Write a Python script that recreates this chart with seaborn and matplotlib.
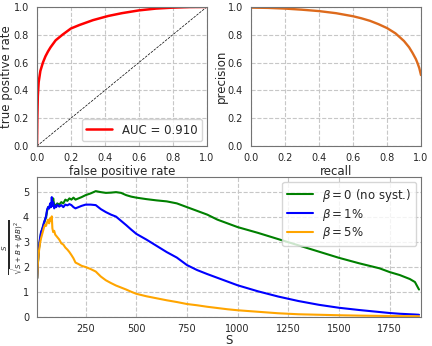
import numpy as np
import pandas as pd
import matplotlib
matplotlib.use("Agg")
import matplotlib.pyplot as plt
import seaborn as sns

# ROC curve
fpr = [0, 0.002, 0.005, 0.01, 0.02, 0.035, 0.05, 0.065, 0.08, 0.11, 0.15,
       0.2, 0.25, 0.33, 0.42, 0.5, 0.6, 0.7, 0.8, 0.9, 1.0]
tpr = [0, 0.2, 0.36, 0.46, 0.54, 0.6, 0.645, 0.68, 0.71, 0.76, 0.8,
       0.845, 0.87, 0.905, 0.935, 0.955, 0.975, 0.988, 0.995, 0.999, 1.0]
auc_label = "AUC = 0.910"

# precision-recall curve
recall = [0, 0.1, 0.2, 0.3, 0.4, 0.5, 0.6, 0.65, 0.7, 0.75, 0.8, 0.85, 0.9,
          0.93, 0.95, 0.97, 0.98, 0.99, 1.0]
precision = [0.995, 0.993, 0.988, 0.98, 0.97, 0.955, 0.933, 0.918, 0.9,
             0.876, 0.848, 0.81, 0.755, 0.71, 0.67, 0.625, 0.595, 0.56, 0.51]

# significance vs number of signal events S
S = [11, 15, 20, 25, 30, 35, 40, 45, 50, 55, 60, 65, 70, 75, 80, 83, 86, 90,
     95, 100, 105, 110, 120, 130, 140, 150, 160, 170, 180, 190, 200, 215, 230,
     250, 275, 300, 325, 350, 375, 400, 425, 450, 475, 500, 550, 600, 650, 700,
     750, 800, 850, 900, 950, 1000, 1100, 1200, 1300, 1400, 1500, 1600, 1700,
     1750, 1800, 1850, 1875, 1895]
sig_nosyst = [1.55, 2.2, 2.75, 3.1, 3.35, 3.5, 3.6, 3.75, 3.9, 4.0, 4.25, 4.4,
              4.35, 4.5, 4.45, 4.6, 4.5, 4.75, 4.45, 4.5, 4.45, 4.55, 4.5, 4.6,
              4.55, 4.7, 4.65, 4.75, 4.7, 4.78, 4.7, 4.75, 4.8, 4.88, 4.95,
              5.04, 5.0, 4.97, 4.98, 5.0, 4.97, 4.88, 4.82, 4.78, 4.72, 4.67,
              4.63, 4.55, 4.4, 4.25, 4.1, 3.9, 3.75, 3.6, 3.37, 3.12, 2.87,
              2.62, 2.37, 2.15, 1.95, 1.8, 1.68, 1.52, 1.4, 1.1]
sig_syst1 = [1.55, 2.25, 2.8, 3.15, 3.4, 3.5, 3.65, 3.8, 3.9, 4.05, 4.3, 4.4,
             4.35, 4.55, 4.4, 4.8, 4.45, 4.6, 4.35, 4.45, 4.4, 4.5, 4.42, 4.48,
             4.4, 4.5, 4.47, 4.52, 4.48, 4.4, 4.35, 4.4, 4.45, 4.5, 4.5, 4.48,
             4.32, 4.2, 4.1, 4.02, 3.85, 3.68, 3.5, 3.33, 3.1, 2.85, 2.6, 2.38,
             2.08, 1.88, 1.72, 1.57, 1.42, 1.27, 1.03, 0.82, 0.64, 0.49, 0.37,
             0.28, 0.2, 0.16, 0.13, 0.11, 0.1, 0.09]
sig_syst5 = [1.55, 2.2, 2.65, 2.95, 3.15, 3.3, 3.45, 3.6, 3.7, 3.65, 3.8, 3.9,
             3.75, 3.95, 3.85, 4.03, 3.55, 3.4, 3.45, 3.3, 3.25, 3.2, 3.1,
             2.95, 2.9, 2.78, 2.7, 2.6, 2.48, 2.35, 2.18, 2.12, 2.05, 2.0,
             1.92, 1.82, 1.62, 1.47, 1.36, 1.26, 1.18, 1.1, 1.01, 0.93, 0.83,
             0.75, 0.67, 0.6, 0.52, 0.47, 0.41, 0.36, 0.31, 0.27, 0.21, 0.15,
             0.11, 0.09, 0.07, 0.055, 0.045, 0.04, 0.035, 0.032, 0.03, 0.03]
labels = [r"$\beta = 0$ (no syst.)", r"$\beta = 1\%$", r"$\beta = 5\%$"]
colors = ["green", "blue", "orange"]

sns.set_style("whitegrid", {"grid.linestyle": "--", "grid.color": "0.78",
                            "axes.edgecolor": "0.45"})
plt.rcParams["font.family"] = ["DejaVu Sans"]
plt.rcParams["xtick.labelsize"] = 7
plt.rcParams["ytick.labelsize"] = 7
plt.rcParams["axes.labelsize"] = 8.5
plt.rcParams["legend.fontsize"] = 8.5
plt.rcParams["xtick.major.pad"] = 1.2
plt.rcParams["ytick.major.pad"] = 2.2
plt.rcParams["axes.labelpad"] = 1.5

fig = plt.figure(figsize=(4.32, 3.46), dpi=100)
ax_roc = fig.add_axes([0.0856, 0.578, 0.393, 0.402])
ax_pr = fig.add_axes([0.581, 0.578, 0.3935, 0.402])
ax_sig = fig.add_axes([0.0856, 0.0838, 0.889, 0.4042])

# ROC
sns.lineplot(x=fpr, y=tpr, ax=ax_roc, color="red", lw=1.8, sort=False,
             estimator=None, label=auc_label)
ax_roc.plot([0, 1], [0, 1], color="black", ls="--", lw=0.5)
ax_roc.set_xlim(0, 1)
ax_roc.set_ylim(0, 1)
ax_roc.set_xticks(np.arange(0, 1.01, 0.2))
ax_roc.set_yticks(np.arange(0, 1.01, 0.2))
ax_roc.set_xlabel("false positive rate")
ax_roc.set_ylabel("true positive rate")
ax_roc.yaxis.set_label_coords(-0.14, 0.5)
ax_roc.legend(loc="lower right", handlelength=2.2, borderaxespad=0.4)

# precision-recall
sns.lineplot(x=recall, y=precision, ax=ax_pr, color="#dd6a1c", lw=1.7,
             sort=False, estimator=None)
ax_pr.set_xlim(0, 1)
ax_pr.set_ylim(0, 1)
ax_pr.set_xticks(np.arange(0, 1.01, 0.2))
ax_pr.set_yticks(np.arange(0, 1.01, 0.2))
ax_pr.set_xlabel("recall")
ax_pr.set_ylabel("precision")
ax_pr.yaxis.set_label_coords(-0.135, 0.5)

# significance
df = pd.DataFrame({
    "S": S * 3,
    "sig": sig_nosyst + sig_syst1 + sig_syst5,
    "case": [labels[0]] * len(S) + [labels[1]] * len(S) + [labels[2]] * len(S),
})
sns.lineplot(data=df, x="S", y="sig", hue="case", hue_order=labels,
             palette=colors, ax=ax_sig, lw=1.5, estimator=None)
ax_sig.set_xlim(10, 1905)
ax_sig.set_ylim(0, 5.6)
ax_sig.set_xticks([250, 500, 750, 1000, 1250, 1500, 1750])
ax_sig.set_yticks([0, 1, 2, 3, 4, 5])
ax_sig.set_xlabel("S", labelpad=0.5)
ax_sig.set_ylabel(r"$\frac{S}{\sqrt{S+B+(\beta B)^2}}$", fontsize=7.4)
ax_sig.yaxis.set_label_coords(-0.031, 0.5)
ax_sig.legend(loc="upper right", handlelength=2.2, borderaxespad=0.4,
              labelspacing=0.25)

fig.savefig("out.png", dpi=100)
